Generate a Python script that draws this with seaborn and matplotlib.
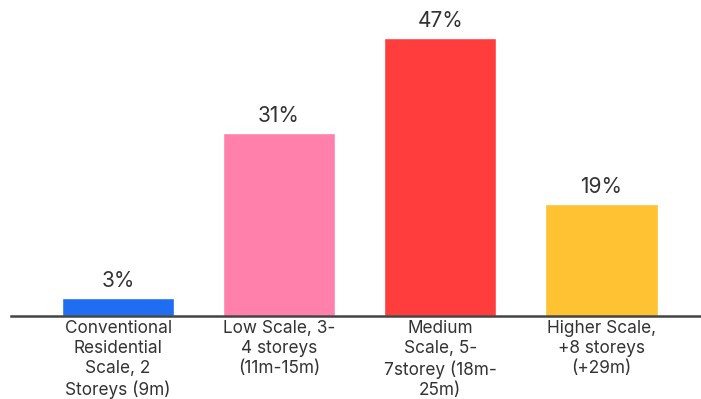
import matplotlib
matplotlib.use("Agg")
import matplotlib.pyplot as plt
import seaborn as sns
import pandas as pd

categories = [
    "Conventional\nResidential\nScale, 2\nStoreys (9m)",
    "Low Scale, 3-\n4 storeys\n(11m-15m)",
    "Medium\nScale, 5-\n7storey (18m-\n25m)",
    "Higher Scale,\n+8 storeys\n(+29m)",
]
shares = [3, 31, 47, 19]
colors = ["#1F6EF2", "#FF80AA", "#FF3D3D", "#FFC232"]

df = pd.DataFrame({"scale": categories, "share": shares})

sns.set_theme(style="white")
plt.rcParams["font.family"] = ["Inter", "DejaVu Sans"]

fig = plt.figure(figsize=(7.01, 3.99), dpi=100)
ax = fig.add_axes([11 / 701, 83 / 399, 690 / 701, 316 / 399])

sns.barplot(data=df, x="scale", y="share", hue="scale", palette=colors,
            width=0.7, legend=False, ax=ax, saturation=1)

for i, v in enumerate(shares):
    ax.annotate(f"{v}%", (i, v), xytext=(0, 5), textcoords="offset points",
                ha="center", va="bottom", fontsize=15, color="#333333")

ax.set_xlim(-0.665, 3.62)
ax.set_ylim(0, 53.4)
ax.set_xlabel("")
ax.set_ylabel("")
ax.set_yticks([])
ax.tick_params(axis="x", length=0, pad=3, labelsize=12.4, labelcolor="#333333")
for lbl in ax.get_xticklabels():
    lbl.set_linespacing(1.22)
for side in ["top", "right", "left"]:
    ax.spines[side].set_visible(False)
ax.spines["bottom"].set_color("#444444")
ax.spines["bottom"].set_linewidth(1.8)

fig.savefig("out.png", dpi=100)
